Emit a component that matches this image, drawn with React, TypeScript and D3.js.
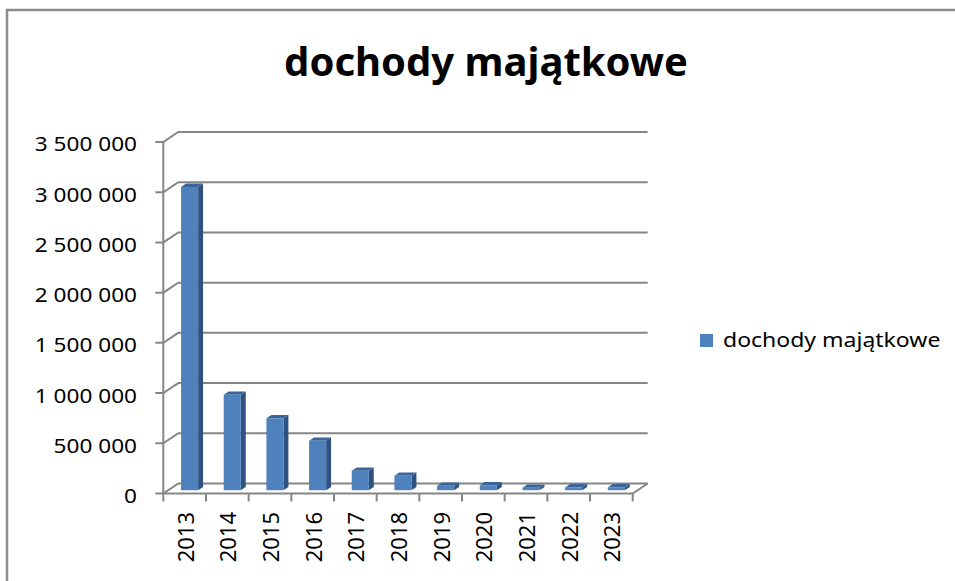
import React, { useEffect, useRef } from 'react';
import * as d3 from 'd3';

// chart data
const years = ['2013', '2014', '2015', '2016', '2017', '2018', '2019', '2020', '2021', '2022', '2023'];
const values = [3020000, 950000, 716000, 493000, 194000, 143000, 45000, 48000, 25000, 28000, 28000];
const yTicks = [0, 500000, 1000000, 1500000, 2000000, 2500000, 3000000, 3500000];
const seriesName = 'dochody majątkowe';
const title = 'dochody majątkowe';

export default function App() {
    const ref = useRef<SVGSVGElement>(null);

    useEffect(() => {
        const svg = d3.select(ref.current);
        svg.selectAll('*').remove();

        const left = 163.3, right = 632.7;
        const y0 = 493.5, yTop = 142;
        const dx = 15, dy = -10; // depth of the 3d box
        const gridColor = '#868686';
        const font = "'Noto Sans', 'Open Sans', sans-serif";

        // outer border
        svg.append('path')
            .attr('d', 'M7,581 L7,10 L955,10')
            .attr('fill', 'none')
            .attr('stroke', '#8c8c8c')
            .attr('stroke-width', 2.5);

        // title
        svg.append('text')
            .attr('x', 486)
            .attr('y', 76)
            .attr('text-anchor', 'middle')
            .attr('font-family', font)
            .attr('font-weight', 'bold')
            .attr('font-size', 40)
            .attr('fill', '#000')
            .text(title);

        const x = d3.scaleBand()
            .domain(years)
            .range([left, right])
            .paddingInner(0.6)
            .paddingOuter(0.3);
        const step = x.step();

        const y = d3.scaleLinear()
            .domain([0, 3500000])
            .range([y0, yTop]);

        const fmt = d3.formatLocale({ thousands: '\u00a0', grouping: [3], decimal: ',', currency: ['', ''] }).format(',d');

        const g = svg.append('g');

        // back wall gridlines and side wall diagonals
        yTicks.forEach(t => {
            const yy = y(t);
            g.append('path')
                .attr('d', `M${left - 8},${yy} L${left},${yy} L${left + dx},${yy + dy} L${right + dx},${yy + dy}`)
                .attr('fill', 'none')
                .attr('stroke', gridColor)
                .attr('stroke-width', 2);
        });

        // floor + vertical axis
        g.append('path')
            .attr('d', `M${left},${yTop} L${left},${y0} L${right},${y0} L${right + dx},${y0 + dy}`)
            .attr('fill', 'none')
            .attr('stroke', gridColor)
            .attr('stroke-width', 2);

        // category ticks
        d3.range(years.length + 1).forEach(i => {
            const xx = left + i * step;
            g.append('line')
                .attr('x1', xx).attr('x2', xx)
                .attr('y1', y0).attr('y2', y0 + 8)
                .attr('stroke', gridColor)
                .attr('stroke-width', 2);
        });

        // y labels
        yTicks.forEach(t => {
            g.append('text')
                .attr('transform', `translate(137,${y(t) + 1.5}) scale(1.13,1)`)
                .attr('text-anchor', 'end')
                .attr('dominant-baseline', 'central')
                .attr('font-family', font)
                .attr('font-size', 20)
                .attr('fill', '#000')
                .text(fmt(t));
        });

        // x labels
        years.forEach(yr => {
            const cx = (x(yr) as number) + x.bandwidth() / 2;
            g.append('text')
                .attr('transform', `translate(${cx},512) rotate(-90)`)
                .attr('text-anchor', 'end')
                .attr('dominant-baseline', 'central')
                .attr('font-family', font)
                .attr('font-size', 22)
                .attr('fill', '#000')
                .text(yr);
        });

        // 3d bars
        const d0 = 0.33, d1 = 0.66;
        const bw = x.bandwidth();
        years.forEach((yr, i) => {
            const v = values[i];
            const fx = (x(yr) as number) + d0 * dx;
            const fb = y(0) + d0 * dy;
            const ft = y(v) + d0 * dy;
            const ox = (d1 - d0) * dx, oy = (d1 - d0) * dy;
            const bar = g.append('g');
            // side
            bar.append('path')
                .attr('d', `M${fx + bw},${fb} L${fx + bw},${ft} L${fx + bw + ox},${ft + oy} L${fx + bw + ox},${fb + oy} Z`)
                .attr('fill', '#2f5281');
            // top
            bar.append('path')
                .attr('d', `M${fx},${ft} L${fx + ox},${ft + oy} L${fx + bw + ox},${ft + oy} L${fx + bw},${ft} Z`)
                .attr('fill', '#3a649a');
            // front
            bar.append('rect')
                .attr('x', fx)
                .attr('y', ft)
                .attr('width', bw)
                .attr('height', fb - ft)
                .attr('fill', '#4f81bd');
        });

        // legend
        svg.append('rect')
            .attr('x', 700).attr('y', 334)
            .attr('width', 13).attr('height', 13)
            .attr('fill', '#4f81bd');
        svg.append('text')
            .attr('transform', 'translate(723,347) scale(1.15,1)')
            .attr('font-family', font)
            .attr('font-size', 20)
            .attr('fill', '#000')
            .text(seriesName);
    }, []);

    return (
        <svg ref={ref} width={955} height={581}
            style={{ position: 'absolute', left: 0, top: 0, background: '#fff' }} />
    );
}
